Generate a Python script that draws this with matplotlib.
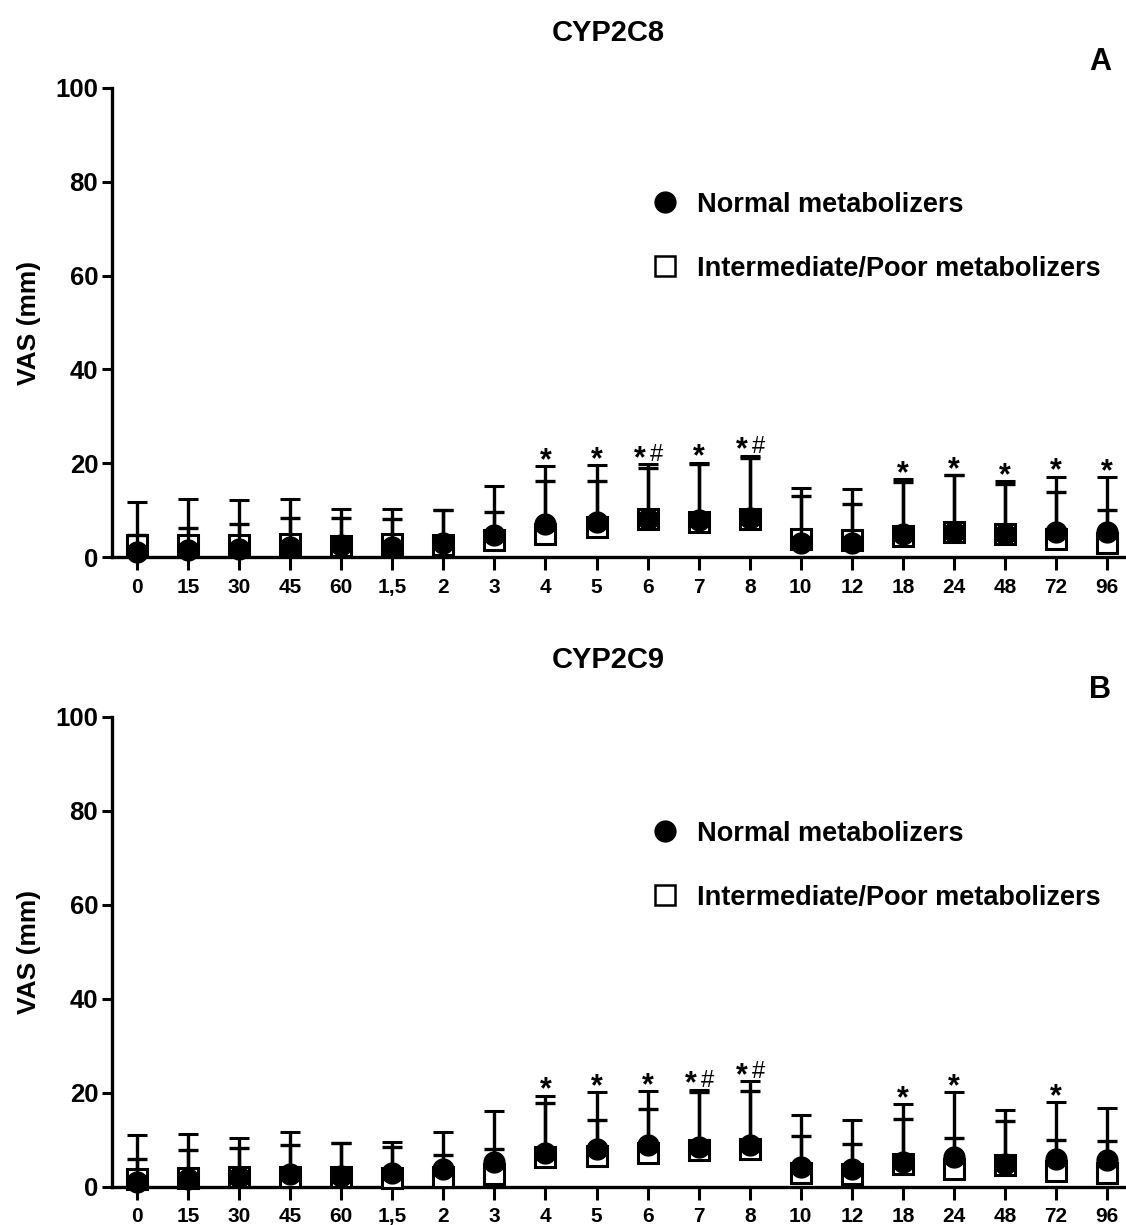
import numpy as np
import matplotlib.pyplot as plt
from matplotlib.lines import Line2D

plt.rcParams['font.family'] = ['Liberation Sans', 'DejaVu Sans']
plt.rcParams['font.weight'] = 'bold'

times = ['0', '15', '30', '45', '60', '1,5', '2', '3', '4', '5', '6', '7', '8',
         '10', '12', '18', '24', '48', '72', '96']

# CYP2C8
a_nm_mean = [1.1, 1.4, 1.8, 2.1, 2.5, 2.1, 2.9, 4.6, 7.1, 7.5, 8.2, 7.9, 8.4, 3.0, 3.0, 5.0, 5.4, 5.0, 5.4, 5.4]
a_nm_sd = [3.5, 4.8, 5.2, 6.3, 5.9, 6.0, 7.1, 4.9, 9.1, 8.6, 10.7, 11.9, 12.7, 10.0, 8.2, 10.9, 12.1, 10.5, 8.5, 4.7]
a_ipm_mean = [2.5, 2.5, 2.5, 2.7, 2.3, 2.7, 2.6, 3.6, 5.0, 6.4, 8.2, 7.5, 8.2, 3.9, 3.6, 4.4, 5.4, 4.8, 3.9, 2.9]
a_ipm_sd = [9.3, 9.9, 9.6, 9.6, 7.9, 7.6, 7.4, 11.6, 14.4, 13.2, 11.6, 12.6, 13.4, 10.9, 11.0, 12.2, 12.1, 11.4, 13.2, 14.1]
a_sig = ['', '', '', '', '', '', '', '', '*', '*', '*#', '*', '*#', '', '', '*', '*', '*', '*', '*']

# CYP2C9
b_nm_mean = [0.9, 1.6, 2.1, 2.6, 2.3, 2.8, 3.8, 5.2, 7.1, 8.0, 8.8, 8.4, 8.9, 4.1, 3.8, 5.2, 6.3, 4.8, 5.9, 5.6]
b_nm_sd = [5.0, 6.1, 6.2, 6.3, 7.0, 5.6, 3.0, 2.8, 10.7, 6.1, 7.8, 11.7, 11.4, 6.6, 5.2, 9.2, 4.0, 9.1, 4.1, 4.1]
b_ipm_mean = [1.6, 1.8, 2.0, 2.1, 2.1, 1.9, 2.0, 2.7, 6.3, 6.4, 7.1, 7.7, 8.0, 2.8, 2.7, 4.8, 3.8, 4.5, 3.4, 2.8]
b_ipm_sd = [9.3, 9.3, 8.4, 9.5, 7.2, 7.6, 9.6, 13.3, 13.0, 13.7, 13.2, 12.9, 14.4, 12.5, 11.5, 12.7, 16.3, 11.7, 14.5, 14.0]
b_sig = ['', '', '', '', '', '', '', '', '*', '*', '*', '*#', '*#', '', '', '*', '*', '', '*', '']

fig = plt.figure(figsize=(11.26, 12.25), dpi=100)
ax_a = fig.add_axes([0.0995, 0.5453, 0.9005, 0.3829])
ax_b = fig.add_axes([0.0995, 0.0314, 0.9005, 0.3835])

x = np.arange(len(times))


def panel(ax, nm_mean, nm_sd, ipm_mean, ipm_sd, sig, title, letter, title_y, letter_y):
    ipm_mean = np.array(ipm_mean)
    nm_mean = np.array(nm_mean)
    ax.errorbar(x, ipm_mean, yerr=[np.zeros(len(x)), ipm_sd], fmt='s', ms=14,
                mfc='white', mec='black', mew=2.2, color='black', elinewidth=2.4,
                capsize=7, capthick=2.4, zorder=3, clip_on=False)
    ax.errorbar(x, nm_mean, yerr=[np.zeros(len(x)), nm_sd], fmt='o', ms=15,
                mfc='black', mec='black', color='black', elinewidth=2.4,
                capsize=7, capthick=2.4, zorder=4, clip_on=False)
    top = np.maximum(ipm_mean + np.array(ipm_sd), nm_mean + np.array(nm_sd))
    for i, s in enumerate(sig):
        if s == '*':
            ax.text(x[i], top[i] - 2.1, '*', ha='center', va='bottom', fontsize=22, fontweight='bold')
        elif s == '*#':
            ax.text(x[i] - 0.15, top[i] - 2.1, '*', ha='center', va='bottom', fontsize=22, fontweight='bold')
            ax.text(x[i] + 0.18, top[i] - 0.4, '#', ha='center', va='bottom', fontsize=17, fontweight='normal')

    ax.set_xlim(-0.49, 19.37)
    ax.set_ylim(0, 100)
    ax.set_yticks([0, 20, 40, 60, 80, 100])
    ax.set_xticks(x)
    ax.set_xticklabels(times, fontsize=15, fontweight='bold')
    ax.tick_params(axis='y', labelsize=18.5, width=2.2, length=7, direction='out', pad=3)
    ax.tick_params(axis='x', width=2.2, length=9, direction='out', pad=6)
    for lab in ax.get_yticklabels():
        lab.set_fontweight('bold')
    ax.spines['top'].set_visible(False)
    ax.spines['right'].set_visible(False)
    ax.spines['left'].set_linewidth(2.4)
    ax.spines['bottom'].set_linewidth(2.4)
    ax.set_ylabel('VAS (mm)', fontsize=19, fontweight='bold', labelpad=10)

    fig.text(0.54, title_y, title, ha='center', va='center', fontsize=21, fontweight='bold')
    fig.text(0.977, letter_y, letter, ha='center', va='center', fontsize=22, fontweight='bold')

    handles = [Line2D([], [], ls='none', marker='o', ms=15, mfc='black', mec='black'),
               Line2D([], [], ls='none', marker='s', ms=14, mfc='white', mec='black', mew=1.8)]
    ax.legend(handles, ['Normal metabolizers', 'Intermediate/Poor metabolizers'],
              loc='upper left', bbox_to_anchor=(0.521, 0.802), frameon=False,
              prop={'size': 19.5, 'weight': 'bold'}, handletextpad=0.68,
              labelspacing=1.41, handlelength=1.0, borderaxespad=0)


panel(ax_a, a_nm_mean, a_nm_sd, a_ipm_mean, a_ipm_sd, a_sig, 'CYP2C8', 'A',
      1 - 33 / 1225, 1 - 62 / 1225)
panel(ax_b, b_nm_mean, b_nm_sd, b_ipm_mean, b_ipm_sd, b_sig, 'CYP2C9', 'B',
      1 - 660 / 1225, 1 - 690 / 1225)

fig.savefig('out.png', dpi=100)
